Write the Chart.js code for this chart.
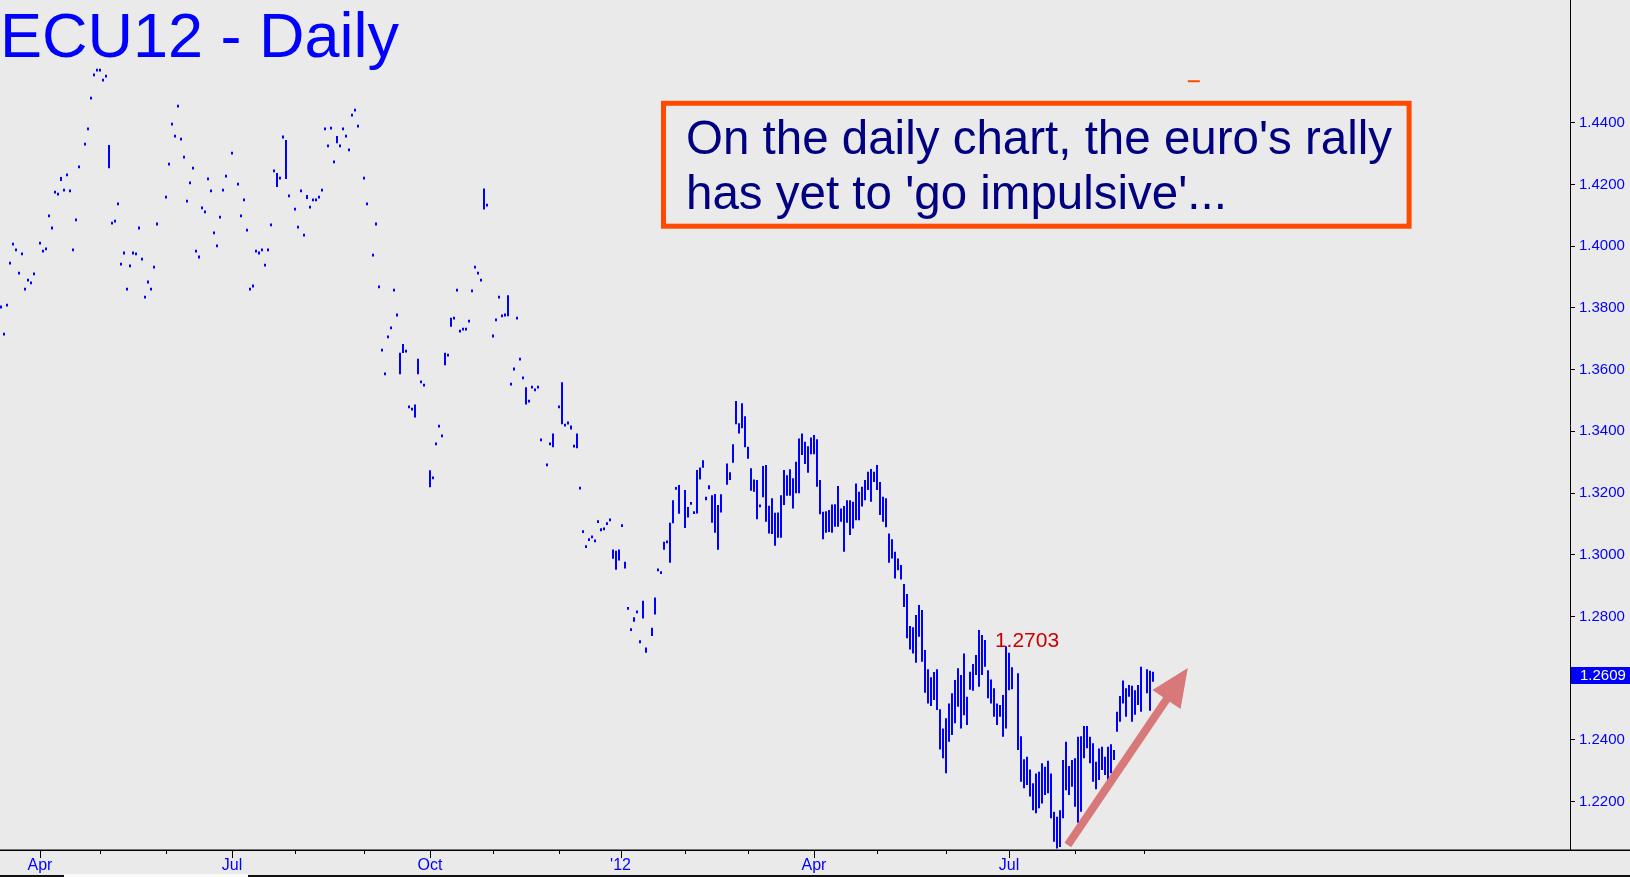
<!DOCTYPE html>
<html>
<head>
<meta charset="utf-8">
<script src="https://cdn.jsdelivr.net/npm/chart.js@4.4.0/dist/chart.umd.min.js"></script>
<style>
  html, body { margin: 0; padding: 0; background: #eaeaea; overflow: hidden; }
  canvas { display: block; }
</style>
</head>
<body>
<canvas id="ecuChart" width="1630" height="877"></canvas>
<script>
const FONT = "'Liberation Sans', Arial, sans-serif";

// daily highs / lows, one slot per weekday starting mid March 2011 (null = no trade)
const highs = [
  1.3803, 1.3715, 1.3809, 1.3945, 1.4007, 1.3988, 1.3913, 1.3975, 1.3861, 1.3890,
  1.3881, 1.3910, null,   1.4010, 1.3984, 1.3991, 1.4098, 1.4059, 1.4175, 1.4169,
  1.4224, 1.4182, 1.4231, 1.4179, 1.3988, 1.4085, 1.4257, null,   1.4331, 1.4380,
  1.4480, 1.4555, 1.4571, 1.4571, 1.4538, 1.4551, 1.4328, 1.4075, 1.4081, 1.4137,
  1.3942, 1.3978, 1.3861, 1.3936, 1.3978, 1.3975, 1.4059, 1.3958, 1.3835, 1.3884,
  1.3861, 1.3932, 1.4072, null,   null,   1.4159, 1.4266, 1.4396, 1.4357, 1.4454,
  1.4347, 1.4289, 1.4146, 1.4205, 1.4253, 1.3984, 1.3965, 1.4124, 1.4111, 1.4218,
  1.4179, 1.4043, 1.4001, 1.4094, 1.4182, 1.4227, null,   1.4302, null,   1.4201,
  1.4098, 1.4150, 1.4052, 1.3861, 1.3871, 1.3984, 1.3978, 1.3988, 1.3939, 1.3988,
  1.4069, 1.4244, 1.4237, 1.4221, 1.4354, 1.4344, 1.4163, null,   1.4120, 1.4062,
  1.4179, 1.4036, 1.4166, 1.4127, 1.4150, 1.4150, 1.4159, 1.4182, 1.4380, 1.4325,
  1.4383, 1.4273, 1.4357, 1.4325, 1.4380, 1.4357, 1.4312, 1.4425, 1.4441, 1.4389,
  null,   1.4221, 1.4137, null,   1.3971, 1.4072, 1.3868, 1.3663, 1.3586, 1.3706,
  1.3735, 1.3858, 1.3777, 1.3655, 1.3683, 1.3660, 1.3479, 1.3472, 1.3487, 1.3635,
  1.3560, 1.3550, null,   1.3274, 1.3249, 1.3359, 1.3417, 1.3385, 1.3655, 1.3647,
  1.3768, 1.3767, 1.3858, 1.3725, 1.3731, 1.3731, 1.3757, 1.3855, 1.3932, 1.3913,
  1.3890, 1.4187, 1.4133, null,   1.3709, 1.3761, 1.3835, 1.3774, 1.3777, 1.3841,
  1.3553, 1.3602, 1.3767, 1.3634, 1.3573, 1.3543, 1.3498, 1.3543, 1.3534, 1.3543,
  1.3372, null,   1.3291, 1.3359, 1.3393, null,   1.3479, 1.3559, 1.3420, 1.3427,
  1.3419, 1.3352, 1.3393, 1.3216, 1.3075, 1.3026, 1.3049, 1.3058, 1.3045, 1.3107,
  1.3081, 1.3084, 1.3101, 1.3113, 1.3017, 1.3013, 1.3017, 1.3094, 1.2977, 1.2826,
  1.2757, 1.2797, 1.2815, 1.2718, 1.2851, 1.2699, null,   1.2763, 1.2861, 1.2951,
  1.2942, 1.3042, 1.3042, 1.3104, 1.3177, 1.3215, 1.3226, null,   1.3210, 1.3155,
  1.3170, 1.3139, 1.3275, 1.3283, 1.3306, 1.3188, 1.3225, 1.3193, 1.3197, 1.3161,
  1.3196, null,   1.3296, 1.3267, 1.3358, 1.3498, 1.3426, 1.3491, 1.3449, 1.3350,
  1.3280, 1.3244, 1.3242, 1.3161, 1.3288, 1.3291, 1.3159, 1.3183, 1.3136, 1.3137,
  1.3193, 1.3275, 1.3258, 1.3277, 1.3248, 1.3301, 1.3377, 1.3393, 1.3366, 1.3352,
  1.3380, 1.3388, 1.3374, 1.3242, 1.3139, 1.3141, 1.3145, 1.3163, 1.3164, 1.3223,
  1.3150, 1.3158, 1.3177, 1.3177, 1.3172, 1.3231, 1.3204, 1.3220, 1.3242, 1.3269,
  1.3278, 1.3269, 1.3291, 1.3236, 1.3188, 1.3183, 1.3069, 1.3050, 1.3010, 1.2988,
  1.2967, 1.2905, 1.2873, 1.2769, 1.2765, 1.2805, 1.2837, 1.2821, 1.2691, 1.2629,
  1.2603, 1.2620, 1.2629, 1.2499, 1.2437, 1.2470, 1.2518, 1.2551, 1.2594, 1.2632,
  1.2610, 1.2680, 1.2540, 1.2621, 1.2646, 1.2675, 1.2756, 1.2740, 1.2724, 1.2626,
  1.2596, 1.2567, 1.2518, 1.2513, 1.2545, 1.2703, 1.2682, 1.2635, null,   1.2616,
  1.2412, 1.2337, 1.2345, 1.2304, 1.2259, 1.2291, 1.2297, 1.2324, 1.2313, 1.2332,
  1.2291, 1.2167, 1.2151, 1.2172, 1.2335, 1.2394, 1.2315, 1.2335, 1.2340, 1.2410,
  1.2412, 1.2445, 1.2445, 1.2410, 1.2389, 1.2329, 1.2372, 1.2378, 1.2345, 1.2378,
  1.2386, 1.2367, 1.2491, 1.2542, 1.2592, 1.2567, 1.2578, 1.2575, 1.2561, 1.2578,
  1.2637, null,   1.2629, 1.2624, 1.2621
];
const lows = [
  1.3803, 1.3715, 1.3809, 1.3945, 1.4007, 1.3988, 1.3913, 1.3975, 1.3861, 1.3890,
  1.3881, 1.3910, null,   1.4010, 1.3984, 1.3991, 1.4098, 1.4059, 1.4175, 1.4169,
  1.4211, 1.4182, 1.4231, 1.4179, 1.3988, 1.4085, 1.4257, null,   1.4331, 1.4380,
  1.4480, 1.4555, 1.4571, 1.4571, 1.4538, 1.4551, 1.4253, 1.4075, 1.4081, 1.4137,
  1.3942, 1.3978, 1.3861, 1.3936, 1.3978, 1.3975, 1.4059, 1.3958, 1.3835, 1.3884,
  1.3861, 1.3932, 1.4072, null,   null,   1.4159, 1.4266, 1.4396, 1.4357, 1.4454,
  1.4347, 1.4289, 1.4146, 1.4205, 1.4253, 1.3984, 1.3965, 1.4124, 1.4111, 1.4218,
  1.4179, 1.4043, 1.4001, 1.4094, 1.4182, 1.4227, null,   1.4302, null,   1.4201,
  1.4098, 1.4150, 1.4052, 1.3861, 1.3871, 1.3984, 1.3978, 1.3988, 1.3939, 1.3988,
  1.4069, 1.4244, 1.4192, 1.4221, 1.4354, 1.4218, 1.4163, null,   1.4120, 1.4062,
  1.4179, 1.4036, 1.4153, 1.4127, 1.4150, 1.4150, 1.4159, 1.4182, 1.4380, 1.4325,
  1.4383, 1.4273, 1.4334, 1.4325, 1.4380, 1.4357, 1.4312, 1.4425, 1.4441, 1.4389,
  null,   1.4221, 1.4137, null,   1.3971, 1.4072, 1.3868, 1.3663, 1.3586, 1.3706,
  1.3735, 1.3858, 1.3777, 1.3585, 1.3654, 1.3660, 1.3479, 1.3472, 1.3445, 1.3585,
  1.3560, 1.3550, null,   1.3219, 1.3249, 1.3359, 1.3417, 1.3385, 1.3614, 1.3647,
  1.3739, 1.3767, 1.3858, 1.3725, 1.3731, 1.3731, 1.3757, 1.3855, 1.3932, 1.3913,
  1.3890, 1.4119, 1.4133, null,   1.3709, 1.3761, 1.3835, 1.3774, 1.3777, 1.3773,
  1.3553, 1.3602, 1.3767, 1.3634, 1.3573, 1.3487, 1.3498, 1.3543, 1.3534, 1.3543,
  1.3372, null,   1.3291, 1.3359, 1.3348, null,   1.3479, 1.3423, 1.3420, 1.3427,
  1.3406, 1.3352, 1.3345, 1.3216, 1.3075, 1.3026, 1.3049, 1.3058, 1.3045, 1.3107,
  1.3081, 1.3084, 1.3101, 1.3113, 1.2987, 1.2951, 1.2981, 1.3094, 1.2955, 1.2826,
  1.2757, 1.2783, 1.2815, 1.2718, 1.2793, 1.2682, null,   1.2737, 1.2806, 1.2951,
  1.2942, 1.3016, 1.3042, 1.2974, 1.3102, 1.3215, 1.3133, null,   1.3087, 1.3121,
  1.3163, 1.3134, 1.3134, 1.3244, 1.3282, 1.3177, 1.3212, 1.3104, 1.3071, 1.3016,
  1.3137, null,   1.3227, 1.3242, 1.3298, 1.3423, 1.3393, 1.3410, 1.3348, 1.3311,
  1.3207, 1.3204, 1.3115, 1.3156, 1.3186, 1.3107, 1.3069, 1.3067, 1.3029, 1.3055,
  1.3055, 1.3161, 1.3191, 1.3191, 1.3150, 1.3199, 1.3199, 1.3323, 1.3294, 1.3266,
  1.3326, 1.3326, 1.3220, 1.3131, 1.3050, 1.3071, 1.3074, 1.3071, 1.3091, 1.3091,
  1.3107, 1.3010, 1.3104, 1.3064, 1.3085, 1.3112, 1.3112, 1.3156, 1.3177, 1.3210,
  1.3172, 1.3236, 1.3210, 1.3129, 1.3107, 1.3089, 1.2974, 1.2988, 1.2923, 1.2950,
  1.2920, 1.2831, 1.2729, 1.2693, 1.2680, 1.2650, 1.2734, 1.2653, 1.2553, 1.2518,
  1.2510, 1.2529, 1.2497, 1.2369, 1.2340, 1.2292, 1.2394, 1.2416, 1.2454, 1.2507,
  1.2437, 1.2480, 1.2448, 1.2562, 1.2559, 1.2610, 1.2572, 1.2610, 1.2637, 1.2535,
  1.2518, 1.2475, 1.2448, 1.2475, 1.2410, 1.2437, 1.2561, 1.2564, null,   1.2367,
  1.2264, 1.2243, 1.2254, 1.2216, 1.2172, 1.2162, 1.2178, 1.2194, 1.2221, 1.2227,
  1.2146, 1.2070, 1.2048, 1.2053, 1.2146, 1.2237, 1.2221, 1.2248, 1.2183, 1.2131,
  1.2167, 1.2340, 1.2373, 1.2324, 1.2264, 1.2240, 1.2270, 1.2302, 1.2286, 1.2254,
  1.2292, 1.2335, 1.2426, 1.2459, 1.2518, 1.2475, 1.2540, 1.2459, 1.2481, 1.2513,
  1.2491, null,   1.2551, 1.2494, 1.2588
];

const yTicks = [1.22, 1.24, 1.28, 1.30, 1.32, 1.34, 1.36, 1.38, 1.40, 1.42, 1.44];
const monthTicks = [13, 33, 55, 77, 98, 121, 143, 164, 186, 206.5, 228, 249, 271, 292, 315, 336, 358, 381];
const monthLabels = ['Apr', '', '', 'Jul', '', '', 'Oct', '', '', "'12", '', '', 'Apr', '', '', 'Jul', '', ''];
const lastPrice = 1.2609;
const peakText = '1.2703';
const peakPos = [331.3, 1.2702];
const arrowFrom = [355.6, 1.2059];
const arrowTo = [395.6, 1.2633];

const bars = [];
highs.forEach((h, i) => {
  if (h === null) return;
  let lo = lows[i], hi = h;
  // single-price days still show as a small mark
  if (hi - lo < 0.0009) {
    const mid = (hi + lo) / 2;
    lo = mid - 0.00045;
    hi = mid + 0.00045;
  }
  bars.push({ x: i, y: [lo, hi] });
});

const decorations = {
  id: 'decorations',
  beforeDraw(chart) {
    const c = chart.ctx;
    c.save();
    c.fillStyle = '#eaeaea';
    c.fillRect(0, 0, chart.width, chart.height);
    c.restore();
  },
  afterDraw(chart) {
    const c = chart.ctx;
    const xs = chart.scales.x, ys = chart.scales.y;
    c.save();

    // x axis line and month ticks
    c.strokeStyle = '#000';
    c.lineWidth = 1.5;
    c.beginPath();
    c.moveTo(0, 850.25);
    c.lineTo(chart.width, 850.25);
    c.stroke();
    c.lineWidth = 1;
    monthTicks.forEach((v, k) => {
      const px = Math.round(xs.getPixelForValue(v)) + 0.5;
      c.beginPath();
      c.moveTo(px, 850);
      c.lineTo(px, monthLabels[k] ? 858 : 854);
      c.stroke();
    });

    // scrollbar strip at the very bottom
    c.fillStyle = '#111';
    c.fillRect(0, 875, chart.width, 2);
    c.fillStyle = '#fafafa';
    c.fillRect(64, 874, 184, 3);

    // title
    c.fillStyle = '#0000ff';
    c.font = '63px ' + FONT;
    c.textBaseline = 'alphabetic';
    c.fillText('ECU12 - Daily', 0, 57);

    // comment box
    c.strokeStyle = '#ff4a00';
    c.lineWidth = 5;
    c.strokeRect(663.5, 103.3, 745.6, 122.9);
    c.fillStyle = '#000080';
    c.font = '47.5px ' + FONT;
    c.fillText("On the daily chart, the euro's rally", 686, 154);
    c.fillText("has yet to 'go impulsive'...", 686, 208.5);

    // small marker dash
    c.fillStyle = '#ff4a00';
    c.fillRect(xs.getPixelForValue(395.6), ys.getPixelForValue(1.4538), 12, 2);

    // peak label
    c.fillStyle = '#cc0000';
    c.font = '21px ' + FONT;
    c.fillText(peakText, xs.getPixelForValue(peakPos[0]), ys.getPixelForValue(peakPos[1]));

    // arrow
    const x0 = xs.getPixelForValue(arrowFrom[0]), y0 = ys.getPixelForValue(arrowFrom[1]);
    const x1 = xs.getPixelForValue(arrowTo[0]), y1 = ys.getPixelForValue(arrowTo[1]);
    const len = Math.hypot(x1 - x0, y1 - y0);
    const ux = (x1 - x0) / len, uy = (y1 - y0) / len;
    const headL = 38, headW = 17;
    const bx = x1 - ux * headL, by = y1 - uy * headL;
    c.strokeStyle = '#d87878';
    c.fillStyle = '#d87878';
    c.lineWidth = 8;
    c.lineCap = 'butt';
    c.beginPath();
    c.moveTo(x0, y0);
    c.lineTo(bx + ux * 2, by + uy * 2);
    c.stroke();
    c.beginPath();
    c.moveTo(x1, y1);
    c.lineTo(bx - uy * headW, by + ux * headW);
    c.lineTo(bx + uy * headW, by - ux * headW);
    c.closePath();
    c.fill();

    // last price box
    const py = ys.getPixelForValue(lastPrice);
    c.fillStyle = '#0000ff';
    c.fillRect(1571, Math.round(py) - 8, 59, 17);
    c.fillStyle = '#ffffff';
    c.font = '15px ' + FONT;
    c.textBaseline = 'middle';
    c.fillText(lastPrice.toFixed(4), 1580, Math.round(py) + 0.5);

    c.restore();
  }
};

const ctxEcu = document.getElementById('ecuChart').getContext('2d');
const ecuChart = new Chart(ctxEcu, {
  type: 'bar',
  data: {
    datasets: [{
      data: bars,
      backgroundColor: '#0000ff',
      borderWidth: 0,
      barThickness: 2,
      inflateAmount: 0,
    }]
  },
  options: {
    responsive: false,
    animation: false,
    events: [],
    layout: { padding: 0 },
    plugins: {
      legend: { display: false },
      tooltip: { enabled: false },
    },
    scales: {
      x: {
        type: 'linear',
        offset: false,
        min: -1 / 3,
        max: 523,
        afterBuildTicks: s => { s.ticks = monthTicks.map(v => ({ value: v })); },
        afterFit: s => { s.height = 27; s.paddingLeft = 0; s.paddingRight = 0; },
        grid: { display: false, drawTicks: false, offset: false },
        border: { display: false },
        ticks: {
          autoSkip: false,
          maxRotation: 0,
          minRotation: 0,
          padding: 6,
          color: '#0000ff',
          font: { family: FONT, size: 16 },
          callback: v => monthLabels[monthTicks.indexOf(v)] || '',
        },
      },
      y: {
        position: 'right',
        min: 1.2043,
        max: 1.4798,
        afterBuildTicks: s => { s.ticks = yTicks.map(v => ({ value: v })); },
        afterFit: s => { s.width = 60; s.paddingTop = 0; s.paddingBottom = 0; },
        grid: { display: true, drawOnChartArea: false, drawTicks: true, tickLength: 5, color: '#000', lineWidth: 1 },
        border: { display: true, color: '#000', width: 1 },
        ticks: {
          padding: 4,
          color: '#0000ff',
          font: { family: FONT, size: 15 },
          callback: v => v.toFixed(4),
        },
      },
    },
  },
  plugins: [decorations],
});
</script>
</body>
</html>
